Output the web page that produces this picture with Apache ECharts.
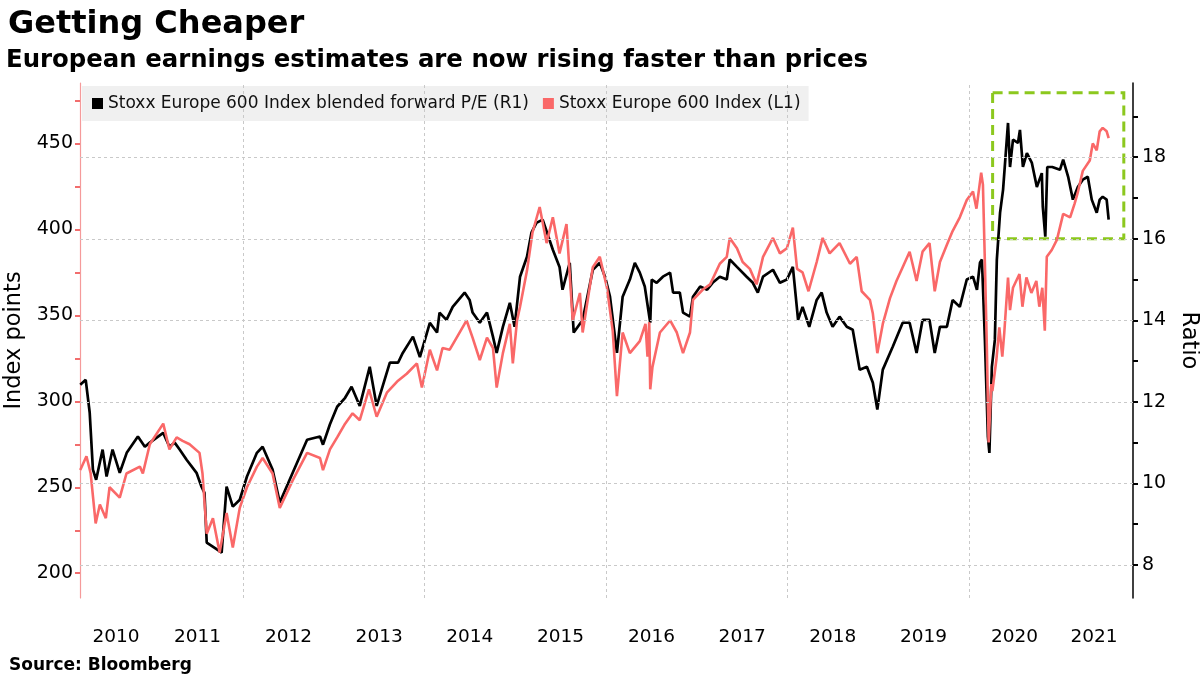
<!DOCTYPE html>
<html>
<head>
<meta charset="utf-8">
<script src="https://cdn.jsdelivr.net/npm/echarts@6/dist/echarts.min.js"></script>
<style>
html,body{margin:0;padding:0;background:#fff;}
#chart{width:1200px;height:675px;}
</style>
</head>
<body>
<div id="chart"></div>
<script>
// ---------------- DATA ----------------
const peName = 'Stoxx Europe 600 Index blended forward P/E (R1)';
const idxName = 'Stoxx Europe 600 Index (L1)';

const peDates = ['2010-03-17','2010-04-08','2010-04-24','2010-05-07','2010-05-20','2010-06-15','2010-07-01','2010-07-25','2010-08-23','2010-09-20','2010-11-04','2010-12-02','2010-12-22','2011-02-14','2011-03-11','2011-04-01','2011-04-21','2011-05-19','2011-06-28','2011-07-18','2011-07-30','2011-08-08','2011-09-18','2011-10-07','2011-10-27','2011-11-21','2011-12-19','2012-01-17','2012-02-26','2012-03-20','2012-04-29','2012-05-28','2012-07-19','2012-09-15','2012-11-06','2012-11-18','2012-12-16','2013-01-14','2013-02-15','2013-03-13','2013-04-15','2013-05-25','2013-06-22','2013-08-14','2013-09-16','2013-10-05','2013-11-15','2013-12-13','2014-01-22','2014-02-20','2014-03-02','2014-03-30','2014-04-24','2014-06-11','2014-07-01','2014-07-13','2014-08-11','2014-09-09','2014-10-03','2014-10-18','2014-11-12','2014-12-10','2014-12-29','2015-01-20','2015-02-17','2015-03-07','2015-03-27','2015-04-21','2015-06-01','2015-06-28','2015-07-10','2015-08-08','2015-08-24','2015-09-29','2015-11-09','2015-12-07','2015-12-28','2016-01-17','2016-02-14','2016-03-08','2016-04-06','2016-04-26','2016-05-16','2016-06-05','2016-06-27','2016-07-03','2016-07-23','2016-08-17','2016-09-15','2016-09-27','2016-10-24','2016-11-06','2016-12-04','2016-12-16','2017-01-14','2017-02-11','2017-03-05','2017-04-03','2017-05-01','2017-05-13','2017-06-11','2017-07-20','2017-08-14','2017-09-03','2017-09-24','2017-11-03','2017-12-01','2017-12-29','2018-01-22','2018-02-12','2018-03-02','2018-03-29','2018-04-28','2018-05-18','2018-06-07','2018-07-01','2018-07-29','2018-08-27','2018-09-20','2018-10-18','2018-11-16','2018-12-10','2018-12-28','2019-01-19','2019-02-28','2019-04-09','2019-05-07','2019-06-04','2019-06-28','2019-07-26','2019-08-16','2019-09-06','2019-10-04','2019-10-27','2019-11-25','2019-12-23','2020-01-17','2020-02-02','2020-02-14','2020-02-22','2020-03-05','2020-03-17','2020-03-23','2020-04-02','2020-04-14','2020-04-22','2020-05-05','2020-05-17','2020-06-06','2020-06-14','2020-06-26','2020-07-16','2020-07-24','2020-08-05','2020-08-21','2020-09-10','2020-09-30','2020-10-20','2020-10-24','2020-11-03','2020-11-11','2020-12-01','2021-01-01','2021-01-14','2021-02-03','2021-02-22','2021-03-14','2021-04-03','2021-04-23','2021-05-09','2021-05-29','2021-06-10','2021-06-22','2021-07-08','2021-07-16'];
const peValues = [12.42,12.54,11.74,10.34,10.09,10.83,10.17,10.83,10.26,10.75,11.15,10.9,11.0,11.24,10.9,11.0,10.83,10.58,10.26,9.92,9.77,8.55,8.38,8.30,9.92,9.43,9.6,10.17,10.75,10.9,10.34,9.53,10.26,11.07,11.15,10.95,11.45,11.88,12.1,12.37,11.9,12.86,11.9,12.96,12.96,13.2,13.6,13.1,13.94,13.7,14.19,14.01,14.33,14.68,14.5,14.19,13.94,14.19,13.6,13.2,13.84,14.43,13.84,15.07,15.56,16.15,16.39,16.47,15.73,15.31,14.75,15.41,13.7,14.01,15.24,15.41,15.07,14.58,13.2,14.58,15.0,15.41,15.17,14.83,13.94,15.0,14.92,15.07,15.17,14.68,14.68,14.19,14.09,14.58,14.83,14.75,14.92,15.07,15.0,15.49,15.31,15.07,14.92,14.68,15.07,15.24,14.92,15.0,15.31,14.01,14.33,13.84,14.5,14.68,14.19,13.84,14.09,13.84,13.77,12.79,12.86,12.47,11.81,12.79,13.35,13.94,13.94,13.2,14.01,14.01,13.2,13.84,13.84,14.5,14.33,15.0,15.07,14.75,15.41,15.49,13.52,11.15,10.75,12.86,13.52,15.49,16.64,17.2,18.84,17.76,18.43,18.35,18.67,17.76,18.1,17.86,17.27,17.61,16.78,16.05,17.76,17.76,17.69,17.94,17.52,16.96,17.27,17.45,17.52,16.96,16.64,16.96,17.03,16.96,16.47];

const idxDates = ['2010-03-17','2010-04-11','2010-04-28','2010-05-18','2010-06-04','2010-06-28','2010-07-13','2010-08-23','2010-09-19','2010-11-12','2010-11-24','2010-12-22','2011-02-14','2011-03-11','2011-04-09','2011-05-03','2011-05-31','2011-07-10','2011-07-22','2011-08-08','2011-09-02','2011-09-29','2011-10-27','2011-11-21','2011-12-19','2012-01-17','2012-02-26','2012-03-20','2012-04-29','2012-05-28','2012-07-19','2012-09-15','2012-11-06','2012-11-18','2012-12-16','2013-01-14','2013-02-15','2013-03-17','2013-04-15','2013-05-22','2013-06-22','2013-08-02','2013-09-16','2013-10-21','2013-12-01','2013-12-21','2014-01-22','2014-02-20','2014-03-14','2014-04-12','2014-05-10','2014-06-19','2014-07-13','2014-08-11','2014-09-09','2014-10-03','2014-10-18','2014-11-12','2014-12-10','2014-12-22','2015-01-08','2015-01-20','2015-02-17','2015-03-11','2015-04-09','2015-05-07','2015-06-01','2015-06-28','2015-07-26','2015-08-20','2015-09-18','2015-09-29','2015-11-09','2015-12-07','2016-01-05','2016-01-28','2016-02-14','2016-03-08','2016-04-06','2016-05-16','2016-06-08','2016-06-16','2016-06-23','2016-06-27','2016-07-06','2016-08-05','2016-09-15','2016-10-12','2016-11-06','2016-12-04','2016-12-16','2017-01-25','2017-02-23','2017-04-03','2017-05-01','2017-05-13','2017-06-11','2017-07-04','2017-08-02','2017-08-29','2017-09-24','2017-11-03','2017-12-01','2017-12-29','2018-01-22','2018-02-08','2018-03-02','2018-03-26','2018-04-28','2018-05-22','2018-06-19','2018-07-29','2018-09-09','2018-10-06','2018-10-26','2018-11-28','2018-12-10','2018-12-28','2019-01-19','2019-02-17','2019-03-15','2019-04-09','2019-05-07','2019-06-04','2019-06-28','2019-07-26','2019-08-16','2019-09-06','2019-10-04','2019-10-27','2019-11-25','2019-12-23','2020-01-17','2020-01-31','2020-02-19','2020-02-26','2020-03-05','2020-03-13','2020-03-20','2020-03-31','2020-04-04','2020-04-20','2020-05-02','2020-05-14','2020-05-22','2020-06-06','2020-06-14','2020-06-26','2020-07-22','2020-08-03','2020-08-19','2020-09-08','2020-09-28','2020-10-10','2020-10-22','2020-11-01','2020-11-09','2020-11-29','2020-12-20','2021-01-14','2021-02-11','2021-03-01','2021-03-13','2021-04-03','2021-05-01','2021-05-13','2021-05-29','2021-06-10','2021-06-22','2021-07-08','2021-07-16'];
const idxValues = [260,268,258,229,240,232,250,244,258,262,258,275,287,272,279,277,275,270,258,223,232,212,235,215,238,250,262,267,258,238,254,270,267,260,272,279,287,293,289,307,291,305,312,316,322,308,330,318,331,330,337,347,337,324,337,331,308,328,345,322,347,355,376,398,413,392,407,386,403,347,363,340,378,384,366,341,303,340,328,335,345,326,346,307,320,340,347,340,328,340,359,365,368,380,384,395,389,381,377,368,384,395,386,389,401,377,375,364,381,395,386,392,380,384,364,359,351,328,345,360,370,378,387,370,387,392,364,381,391,399,407,417,422,412,433,426,380,330,276,310,306,324,343,326,340,372,353,366,374,355,372,363,370,355,366,341,384,388,394,409,407,415,421,434,440,450,446,457,459,457,453];

// axis ticks / labels
const xRange = ['2010-03-16', '2021-10-22'];
const yearLabelDates = ['2010-08-08','2011-07-02','2012-07-02','2013-07-02','2014-07-02','2015-07-02','2016-07-02','2017-07-02','2018-07-02','2019-07-02','2020-07-02','2021-05-18'];
const gridYearDates = ['2012-01-01','2014-01-01','2016-01-01','2018-01-01','2020-01-01'];
const leftRange = [185.6, 485.1];
const leftTickValues = [200,225,250,275,300,325,350,375,400,425,450,475];
const leftLabelValues = [200,250,300,350,400,450];
const rightRange = [7.19, 19.82];
const rightTickValues = [8,9,10,11,12,13,14,15,16,17,18,19];
const rightLabelValues = [8,10,12,14,16,18];
const highlightBox = [['2020-04-05', 19.58], ['2021-09-15', 16]];

// ---------------- CHART ----------------
function ts(s){ const p = s.split('-').map(Number); return Date.UTC(p[0], p[1]-1, p[2]); }
const peData = peDates.map((d,i)=>[ts(d), peValues[i]]);
const idxData = idxDates.map((d,i)=>[ts(d), idxValues[i]]);

const FONT = 'DejaVu Sans, Verdana, sans-serif';
const chart = echarts.init(document.getElementById('chart'), null, {renderer:'canvas'});

const gridLines = rightLabelValues.map(v=>({yAxis:v}))
  .concat(gridYearDates.map(d=>({xAxis: ts(d)})));

chart.setOption({
  animation:false,
  backgroundColor:'#ffffff',
  textStyle:{fontFamily:FONT},
  title:[
    {text:'Getting Cheaper', left:3, top:4, textStyle:{fontFamily:FONT, fontSize:32, fontWeight:'bold', color:'#000'}},
    {text:'European earnings estimates are now rising faster than prices', left:1, top:44, textStyle:{fontFamily:FONT, fontSize:24.4, fontWeight:'bold', color:'#000'}},
    {text:'Source: Bloomberg', left:4, top:652, textStyle:{fontFamily:FONT, fontSize:17, fontWeight:'bold', color:'#000'}}
  ],
  legend:{
    left:82, top:86, orient:'horizontal',
    data:[peName, idxName],
    icon:'rect', itemWidth:11, itemHeight:11, itemGap:14,
    padding:[9,8,9,10],
    backgroundColor:'rgba(228,228,228,0.55)',
    textStyle:{fontFamily:FONT, fontSize:17, color:'#111'},
    selectedMode:false
  },
  grid:{left:80, right:67, top:83, bottom:77, containLabel:false, outerBoundsMode:'none'},
  xAxis:{
    type:'value', min:ts(xRange[0]), max:ts(xRange[1]),
    axisLine:{show:false}, axisTick:{show:false}, splitLine:{show:false},
    axisLabel:{customValues:yearLabelDates.map(ts), formatter:(v)=>String(new Date(v).getUTCFullYear()),
      fontFamily:FONT, fontSize:18.5, color:'#000', margin:30}
  },
  yAxis:[
    {type:'value', position:'left', min:leftRange[0], max:leftRange[1],
      name:'Index points', nameLocation:'middle', nameGap:50, nameRotate:90,
      nameTextStyle:{fontFamily:FONT, fontSize:22.5, color:'#000'},
      axisLine:{show:true, lineStyle:{color:'#f59a9a', width:1.2}},
      axisTick:{show:true, customValues:leftTickValues, length:5, lineStyle:{color:'#f26d6d', width:2}},
      axisLabel:{customValues:leftLabelValues, fontFamily:FONT, fontSize:19, color:'#000', margin:7},
      splitLine:{show:false}},
    {type:'value', position:'right', min:rightRange[0], max:rightRange[1],
      name:'Ratio', nameLocation:'middle', nameGap:36, nameRotate:-90,
      nameTextStyle:{fontFamily:FONT, fontSize:22.5, color:'#000'},
      axisLine:{show:true, lineStyle:{color:'#000', width:1.5}},
      axisTick:{show:true, customValues:rightTickValues, length:5, lineStyle:{color:'#000', width:2}},
      axisLabel:{customValues:rightLabelValues, fontFamily:FONT, fontSize:19, color:'#000', margin:9},
      splitLine:{show:false}}
  ],
  series:[
    {name:peName, type:'line', yAxisIndex:1, data:peData, showSymbol:false, symbol:'none',
      lineStyle:{color:'#000', width:2.7}, itemStyle:{color:'#000'}, z:3,
      markLine:{silent:true, symbol:['none','none'], label:{show:false},
        lineStyle:{color:'#c9c9c9', type:[3,3], width:1},
        data:gridLines},
      markArea:{silent:true, label:{show:false},
        itemStyle:{color:'rgba(0,0,0,0)', borderColor:'#8cc81e', borderWidth:3, borderType:[10,6]},
        data:[[{xAxis:ts(highlightBox[0][0]), yAxis:highlightBox[0][1]},{xAxis:ts(highlightBox[1][0]), yAxis:highlightBox[1][1]}]]}
    },
    {name:idxName, type:'line', yAxisIndex:0, data:idxData, showSymbol:false, symbol:'none',
      lineStyle:{color:'#fa6868', width:2.6}, itemStyle:{color:'#fa6868'}, z:4}
  ]
});
</script>
</body>
</html>
